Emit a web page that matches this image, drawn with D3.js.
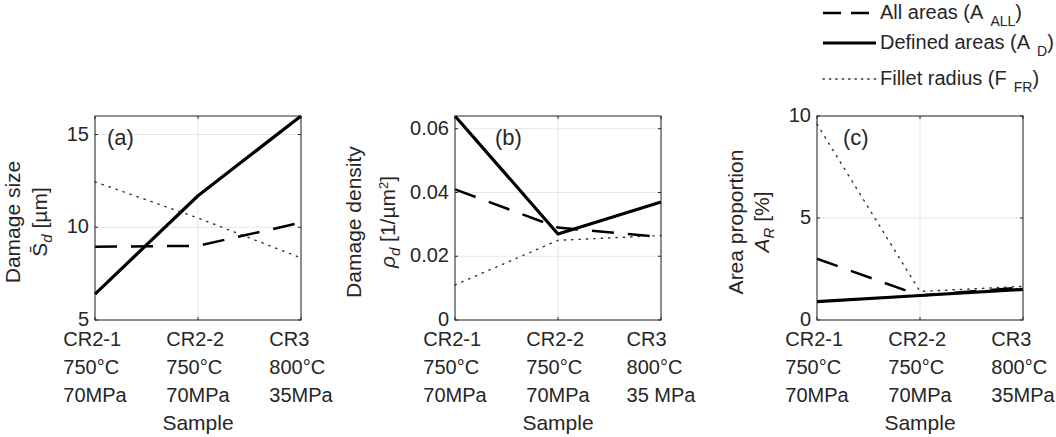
<!DOCTYPE html>
<html>
<head>
<meta charset="utf-8">
<script src="https://cdn.jsdelivr.net/npm/d3@7"></script>
<style>
  body { margin: 0; background: #fff; }
  svg { display: block; font-family: "Liberation Sans", Arial, sans-serif; }
  text { fill: #262626; }
</style>
</head>
<body>
<svg id="chart" width="1056" height="437"></svg>
<script>
// samples on the x axis (three lines per tick)
var samples = [["CR2-1", "750°C", "70MPa"], ["CR2-2", "750°C", "70MPa"], ["CR3", "800°C", "35MPa"]];
var samplesB = [["CR2-1", "750°C", "70MPa"], ["CR2-2", "750°C", "70MPa"], ["CR3", "800°C", "35 MPa"]];

// (a) damage size [µm]
var sizeAll = [8.95, 9.0, 10.25];
var sizeDefined = [6.4, 11.7, 16];
var sizeFillet = [12.45, 10.5, 8.35];
var sizeTicks = [5, 10, 15];

// (b) damage density [1/µm²]
var densityAll = [0.041, 0.029, 0.026];
var densityDefined = [0.064, 0.027, 0.037];
var densityFillet = [0.011, 0.025, 0.0265];
var densityTicks = [0, 0.02, 0.04, 0.06];

// (c) area proportion [%]
var areaAll = [3.0, 1.2, 1.6];
var areaDefined = [0.9, 1.2, 1.5];
var areaFillet = [9.6, 1.4, 1.65];
var areaTicks = [0, 5, 10];

var legendNames = [["All areas (A", "ALL"], ["Defined areas (A", "D"], ["Fillet radius (F", "FR"]];

var styles = {
    all: {width: 2.5, dash: "22,14", color: "#000"},
    defined: {width: 3.2, dash: null, color: "#000"},
    fillet: {width: 1.4, dash: "1.4,6", color: "#333"}
};

var svg = d3.select("#chart");
var plotTop = 116, plotBottom = 320, plotW = 206;

function drawPanel(o) {
    var g = svg.append("g");
    var x = d3.scalePoint().domain(d3.range(o.labels.length)).range([o.left, o.left + plotW]).padding(0);
    var y = d3.scaleLinear().domain(o.ylim).range([plotBottom, plotTop]);

    // grid
    g.selectAll(".hgrid").data(o.ticks).enter().append("line")
        .attr("x1", o.left).attr("x2", o.left + plotW)
        .attr("y1", function(d) { return y(d); }).attr("y2", function(d) { return y(d); })
        .attr("stroke", "#e6e6e6").attr("stroke-width", 1);
    g.selectAll(".vgrid").data(d3.range(o.labels.length)).enter().append("line")
        .attr("x1", function(d) { return x(d); }).attr("x2", function(d) { return x(d); })
        .attr("y1", plotTop).attr("y2", plotBottom)
        .attr("stroke", "#e6e6e6").attr("stroke-width", 1);

    // series
    var line = d3.line().x(function(d, i) { return x(i); }).y(function(d) { return y(d); });
    o.series.forEach(function(s) {
        var st = styles[s.key];
        g.append("path").attr("d", line(s.values))
            .attr("fill", "none").attr("stroke", st.color)
            .attr("stroke-width", st.width)
            .attr("stroke-dasharray", st.dash)
            .attr("stroke-linecap", s.key == "fillet" ? "round" : "butt")
            .attr("stroke-linejoin", "round");
    });

    // box + ticks
    g.append("rect").attr("x", o.left).attr("y", plotTop).attr("width", plotW).attr("height", plotBottom - plotTop)
        .attr("fill", "none").attr("stroke", "#262626").attr("stroke-width", 1);
    o.ticks.forEach(function(t) {
        g.append("line").attr("x1", o.left).attr("x2", o.left + 3).attr("y1", y(t)).attr("y2", y(t)).attr("stroke", "#262626");
        g.append("line").attr("x1", o.left + plotW).attr("x2", o.left + plotW - 3).attr("y1", y(t)).attr("y2", y(t)).attr("stroke", "#262626");
        g.append("text").attr("x", o.left - 6).attr("y", y(t) + 6)
            .attr("text-anchor", "end").attr("font-size", 20)
            .text(o.fmt ? o.fmt(t) : t);
    });
    d3.range(o.labels.length).forEach(function(i) {
        g.append("line").attr("x1", x(i)).attr("x2", x(i)).attr("y1", plotBottom).attr("y2", plotBottom - 3).attr("stroke", "#262626");
        g.append("line").attr("x1", x(i)).attr("x2", x(i)).attr("y1", plotTop).attr("y2", plotTop + 3).attr("stroke", "#262626");

        // multi-line tick label, lines left aligned, block centred on tick
        var texts = o.labels[i].map(function(l, j) {
            return g.append("text").attr("y", 346 + j * 28).attr("font-size", 20).text(l);
        });
        var w = d3.max(texts, function(t) { return t.node().getComputedTextLength(); });
        texts.forEach(function(t) { t.attr("x", x(i) - w / 2); });
    });

    g.append("text").attr("x", o.left + plotW / 2).attr("y", 430)
        .attr("text-anchor", "middle").attr("font-size", 21).text("Sample");

    g.append("text").attr("x", o.tagX).attr("y", 145).attr("font-size", 22).text(o.tag);

    // y label, two rotated lines
    g.append("text").attr("transform", "translate(" + o.yl1 + ",222) rotate(-90)")
        .attr("text-anchor", "middle").attr("font-size", 21).text(o.ylabel1);
    var l2 = g.append("text").attr("transform", "translate(" + o.yl2 + ",222) rotate(-90)")
        .attr("text-anchor", "middle").attr("font-size", 21);
    o.ylabel2(l2);
}

drawPanel({
    left: 95, ylim: [5, 16], ticks: sizeTicks, labels: samples, tag: "(a)", tagX: 107,
    series: [{key: "all", values: sizeAll}, {key: "defined", values: sizeDefined}, {key: "fillet", values: sizeFillet}],
    yl1: 20, yl2: 47, ylabel1: "Damage size",
    ylabel2: function(t) {
        t.append("tspan").text("S\u0304");
        t.append("tspan").attr("font-style", "italic").attr("font-size", 15).attr("dy", 5).text("d");
        t.append("tspan").attr("dy", -5).text(" [µm]");
    }
});

drawPanel({
    left: 455, ylim: [0, 0.064], ticks: densityTicks, labels: samplesB, tag: "(b)", tagX: 495,
    fmt: function(d) { return d == 0 ? "0" : d3.format(".2f")(d); },
    series: [{key: "all", values: densityAll}, {key: "defined", values: densityDefined}, {key: "fillet", values: densityFillet}],
    yl1: 361, yl2: 395, ylabel1: "Damage density",
    ylabel2: function(t) {
        t.append("tspan").attr("font-style", "italic").text("ρ");
        t.append("tspan").attr("font-style", "italic").attr("font-size", 15).attr("dy", 5).text("d");
        t.append("tspan").attr("dy", -5).text(" [1/µm");
        t.append("tspan").attr("font-size", 13).attr("dy", -7).text("2");
        t.append("tspan").attr("dy", 7).text("]");
    }
});

drawPanel({
    left: 817, ylim: [0, 10], ticks: areaTicks, labels: samples, tag: "(c)", tagX: 843,
    series: [{key: "all", values: areaAll}, {key: "defined", values: areaDefined}, {key: "fillet", values: areaFillet}],
    yl1: 743, yl2: 769, ylabel1: "Area proportion",
    ylabel2: function(t) {
        t.append("tspan").attr("font-style", "italic").text("A");
        t.append("tspan").attr("font-style", "italic").attr("font-size", 15).attr("dy", 5).text("R");
        t.append("tspan").attr("dy", -5).text(" [%]");
    }
});

// legend, top right
var legendKeys = ["all", "defined", "fillet"];
var legendLineY = [13, 43, 79];
var legend = svg.append("g");
legendKeys.forEach(function(k, i) {
    var st = styles[k];
    legend.append("line").attr("x1", 823).attr("x2", 876)
        .attr("y1", legendLineY[i]).attr("y2", legendLineY[i])
        .attr("stroke", st.color).attr("stroke-width", st.width)
        .attr("stroke-dasharray", k == "all" ? "18,10" : (k == "fillet" ? "1.4,5" : null))
        .attr("stroke-linecap", k == "fillet" ? "round" : "butt");
    var t = legend.append("text").attr("x", 880).attr("y", legendLineY[i] + 6).attr("font-size", 20);
    t.append("tspan").text(legendNames[i][0]);
    t.append("tspan").attr("font-size", 14).attr("dx", 7).attr("dy", 7).text(legendNames[i][1]);
    t.append("tspan").attr("dy", -7).text(")");
});
</script>
</body>
</html>
